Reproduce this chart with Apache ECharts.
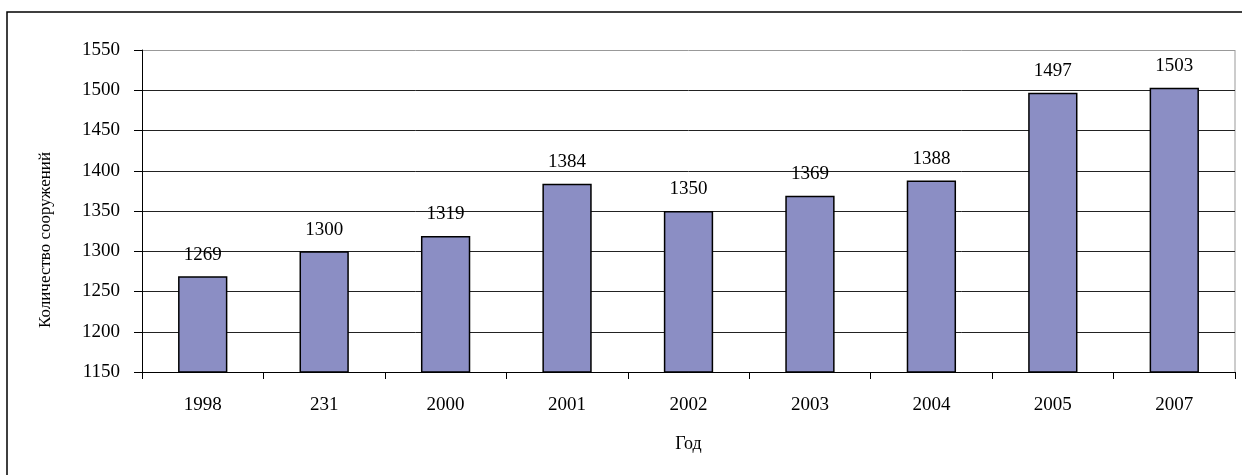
<!DOCTYPE html>
<html>
<head>
<meta charset="utf-8">
<script src="https://cdn.jsdelivr.net/npm/echarts@6/dist/echarts.min.js"></script>
<style>
html,body{margin:0;padding:0;background:#fff;}
#chart{width:1242px;height:475px;}
</style>
</head>
<body>
<div id="chart"></div>
<script>
const categories = ['1998', '231', '2000', '2001', '2002', '2003', '2004', '2005', '2007'];
const values = [1269, 1300, 1319, 1384, 1350, 1369, 1388, 1497, 1503];
const yName = 'Количество сооружений';
const xName = 'Год';

const FONT = '"Liberation Serif", "Times New Roman", serif';
const chart = echarts.init(document.getElementById('chart'), null, {renderer: 'canvas'});
const gridColors = ['#222','#222','#222','#222','#222','#222','#222','#222','#999'];
chart.setOption({
  animation: false,
  backgroundColor: '#fff',
  graphic: [{
    type: 'rect',
    shape: {x: 7, y: 12, width: 1400, height: 600},
    style: {fill: 'none', stroke: '#000', lineWidth: 1.5},
    silent: true
  }, {
    type: 'line',
    shape: {x1: 1235, y1: 50, x2: 1235, y2: 372},
    style: {stroke: '#999', lineWidth: 1},
    silent: true
  }],
  grid: {left: 142, right: 7, top: 50, bottom: 103, containLabel: false},
  xAxis: {
    type: 'category',
    data: categories,
    name: xName,
    nameLocation: 'middle',
    nameGap: 63,
    nameTextStyle: {fontFamily: FONT, fontSize: 18, color: '#000'},
    axisLine: {show: true, lineStyle: {color: '#000', width: 1}},
    axisTick: {show: true, interval: 0, length: 7, lineStyle: {color: '#000'}},
    axisLabel: {fontFamily: FONT, fontSize: 19, color: '#000', margin: 24, interval: 0},
    splitLine: {show: false}
  },
  yAxis: {
    type: 'value',
    min: 1150,
    max: 1550,
    interval: 50,
    name: yName,
    nameLocation: 'middle',
    nameGap: 88,
    nameRotate: 90,
    nameTextStyle: {fontFamily: FONT, fontSize: 17, color: '#000', padding: [0, 58, 0, 0]},
    axisLine: {show: true, lineStyle: {color: '#000', width: 1}},
    axisTick: {show: true, length: 8, lineStyle: {color: '#000'}},
    axisLabel: {fontFamily: FONT, fontSize: 19, color: '#000', margin: 22, formatter: function (v) { return String(v); }},
    splitLine: {show: true, lineStyle: {color: gridColors, width: 1}}
  },
  series: [{
    type: 'bar',
    data: values,
    barWidth: '40.6%',
    itemStyle: {color: '#8b8ec4', borderColor: '#000', borderWidth: 1.5},
    label: {show: true, position: 'top', distance: 12, fontFamily: FONT, fontSize: 19, color: '#000'}
  }]
});
</script>
</body>
</html>
